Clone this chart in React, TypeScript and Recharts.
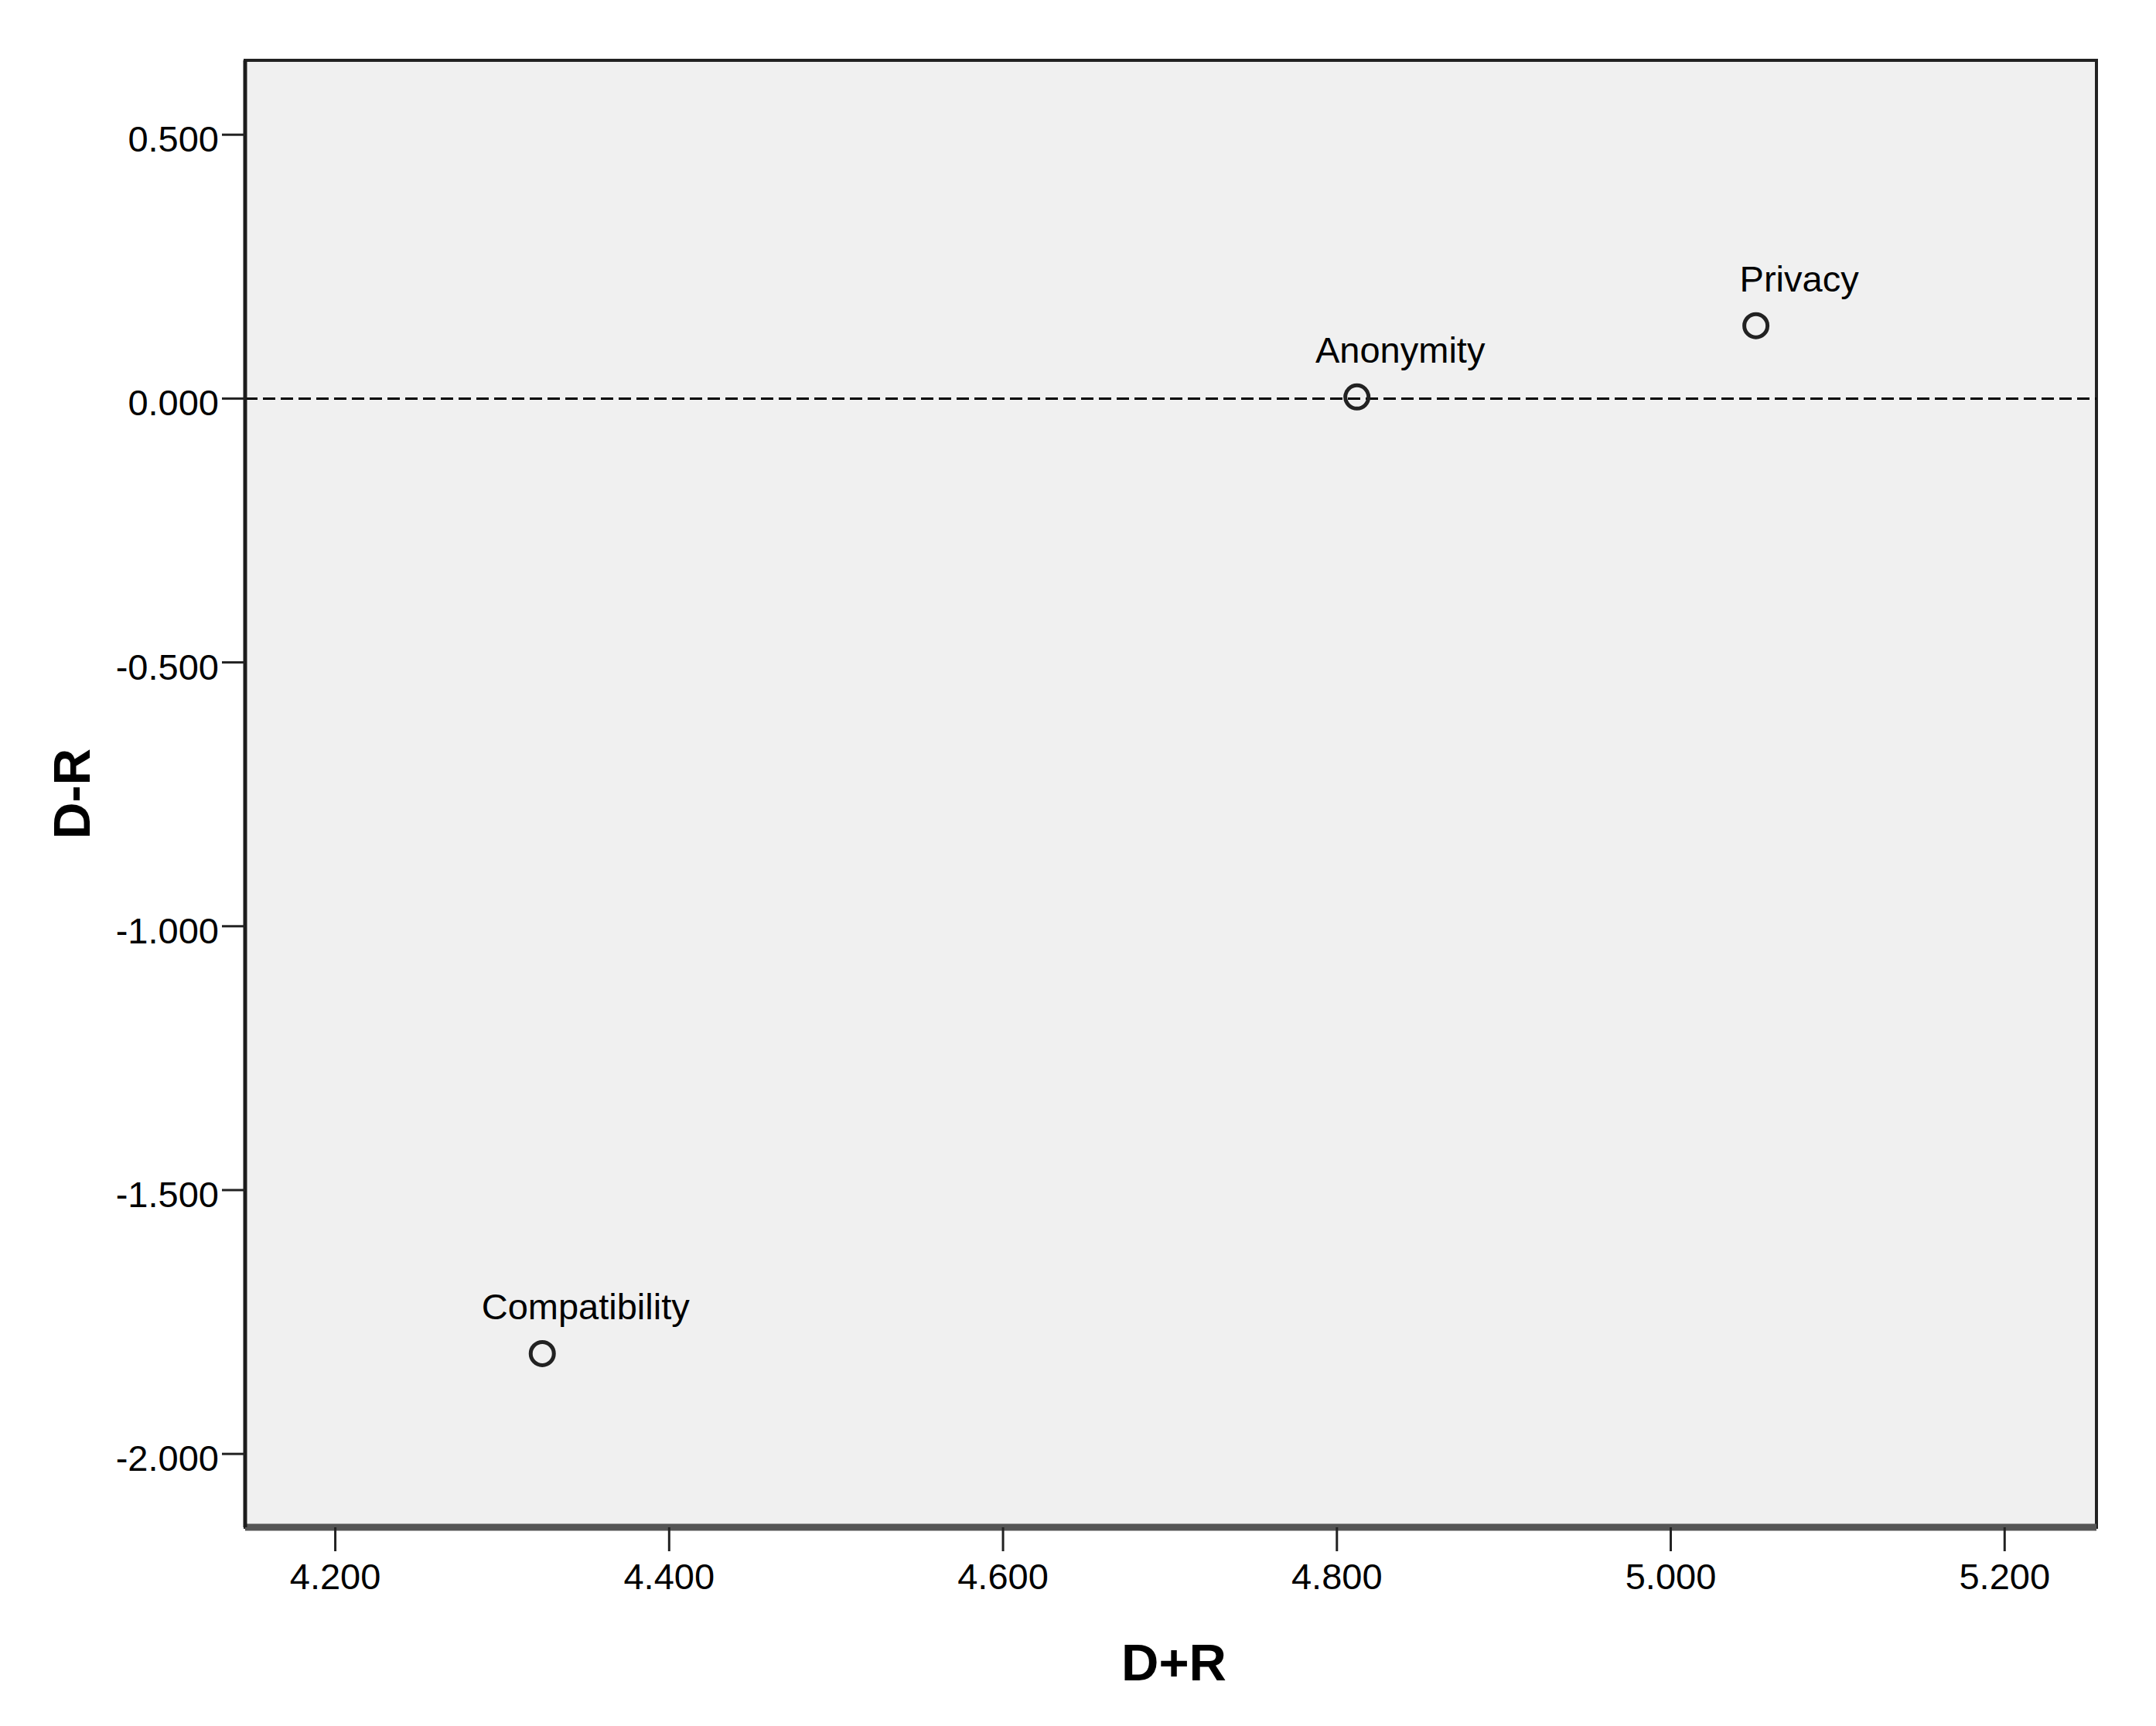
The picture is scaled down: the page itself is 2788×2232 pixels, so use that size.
import React from "react";
import {
  ScatterChart,
  Scatter,
  XAxis,
  YAxis,
  ReferenceLine,
  ReferenceArea,
} from "recharts";

// factor names and their D+R / D-R coordinates
const factors = ["Compatibility", "Anonymity", "Privacy"];
const dPlusR = [4.324, 4.812, 5.051];
const dMinusR = [-1.81, 0.003, 0.138];

const xTicks = [4.2, 4.4, 4.6, 4.8, 5.0, 5.2];
const yTicks = [0.5, 0, -0.5, -1.0, -1.5, -2.0];
const xDomain = [4.146, 5.255];
const yDomain = [-2.139, 0.641];

const data = factors.map((name, i) => ({
  name,
  x: dPlusR[i],
  y: dMinusR[i],
}));

const FONT = "'Liberation Sans', Arial, sans-serif";

const PointWithLabel = (props: any) => {
  const { cx, cy, payload } = props;
  return (
    <g>
      <circle cx={cx} cy={cy} r={15} fill="none" stroke="#222" strokeWidth={5} />
      <text
        x={cx + 56}
        y={cy - 44}
        textAnchor="middle"
        fontFamily={FONT}
        fontSize={47}
        fill="#000"
      >
        {payload.name}
      </text>
    </g>
  );
};

const YTick = (props: any) => {
  const { x, y, payload } = props;
  return (
    <text
      x={x}
      y={y + 22}
      textAnchor="end"
      fontFamily={FONT}
      fontSize={47}
      fill="#000"
    >
      {payload.value.toFixed(3)}
    </text>
  );
};

const XTick = (props: any) => {
  const { x, y, payload } = props;
  return (
    <text
      x={x}
      y={y + 34}
      textAnchor="middle"
      fontFamily={FONT}
      fontSize={47}
      fill="#000"
    >
      {payload.value.toFixed(3)}
    </text>
  );
};

export default function App() {
  return (
    <div
      style={{
        position: "absolute",
        left: 0,
        top: 0,
        width: 2788,
        height: 2232,
        background: "#fff",
      }}
    >
      <ScatterChart
        width={2788}
        height={2232}
        margin={{ top: 78, right: 77, left: 0, bottom: 0 }}
      >
        <ReferenceArea
          x1={xDomain[0]}
          x2={xDomain[1]}
          y1={yDomain[0]}
          y2={yDomain[1]}
          fill="#f0f0f0"
          fillOpacity={1}
          stroke="#222"
          strokeWidth={4}
        />
        <XAxis
          type="number"
          dataKey="x"
          domain={xDomain}
          allowDataOverflow
          ticks={xTicks}
          height={257}
          tickSize={31}
          tickMargin={15}
          tick={<XTick />}
          axisLine={{ stroke: "#555", strokeWidth: 9 }}
          tickLine={{ stroke: "#222", strokeWidth: 3 }}
          label={{
            content: (p: any) => {
              const vb = p.viewBox;
              return (
                <text
                  x={vb.x + vb.width / 2 + 4}
                  y={2173}
                  textAnchor="middle"
                  fontFamily={FONT}
                  fontWeight="bold"
                  fontSize={67}
                  fill="#000"
                >
                  D+R
                </text>
              );
            },
          }}
        />
        <YAxis
          type="number"
          dataKey="y"
          domain={yDomain}
          allowDataOverflow
          ticks={yTicks}
          width={317}
          tickSize={30}
          tickMargin={4}
          tick={<YTick />}
          axisLine={{ stroke: "#1c1c1c", strokeWidth: 5 }}
          tickLine={{ stroke: "#222", strokeWidth: 3 }}
          label={{
            content: (p: any) => {
              const vb = p.viewBox;
              const cy = vb.y + vb.height / 2;
              return (
                <text
                  x={116}
                  y={cy}
                  transform={`rotate(-90, 116, ${cy})`}
                  textAnchor="middle"
                  fontFamily={FONT}
                  fontWeight="bold"
                  fontSize={66}
                  fill="#000"
                >
                  D-R
                </text>
              );
            },
          }}
        />
        <ReferenceLine
          y={0}
          stroke="#000"
          strokeWidth={3}
          strokeDasharray="16 7"
        />
        <Scatter
          data={data}
          shape={<PointWithLabel />}
          isAnimationActive={false}
        />
      </ScatterChart>
    </div>
  );
}
